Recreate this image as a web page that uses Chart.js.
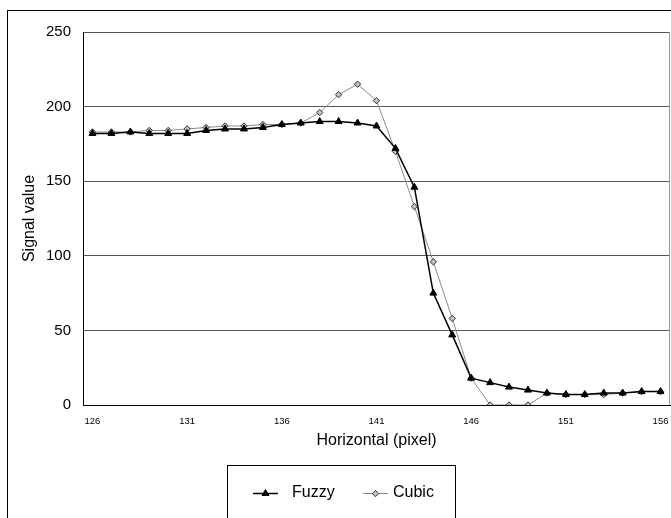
<!DOCTYPE html>
<html>
<head>
<meta charset="utf-8">
<script src="https://cdn.jsdelivr.net/npm/chart.js@4"></script>
<style>
  html, body { margin: 0; padding: 0; background: #fff; overflow: hidden; }
  #wrap { width: 671px; height: 518px; overflow: hidden; }
</style>
</head>
<body>
<div id="wrap"><canvas id="chart" width="675" height="518"></canvas></div>
<script>
// x positions (pixel index) and the two signal series
const pixels = [126, 127, 128, 129, 130, 131, 132, 133, 134, 135, 136, 137, 138, 139, 140, 141,
                142, 143, 144, 145, 146, 147, 148, 149, 150, 151, 152, 153, 154, 155, 156];
const fuzzy = [182, 182, 183, 182, 182, 182, 184, 185, 185, 186, 188, 189, 190, 190, 189, 187,
               172, 146, 75, 47, 18, 15, 12, 10, 8, 7, 7, 8, 8, 9, 9];
const cubic = [183, 183, 183, 184, 184, 185, 186, 187, 187, 188, 188, 189, 196, 208, 215, 204,
               170, 133, 96, 58, 18, 0, 0, 0, 8, 7, 7, 7, 8, 9, 9];
const yTicks = [0, 50, 100, 150, 200, 250];

const FONT = 'Arial, "Liberation Sans", sans-serif';

// outer frame, right border of the plot and the boxed legend
const frame = {
  id: 'frame',
  beforeDraw(chart) {
    const ctx = chart.ctx;
    ctx.save();
    ctx.fillStyle = '#fff';
    ctx.fillRect(0, 0, chart.width, chart.height);
    ctx.strokeStyle = '#000';
    ctx.lineWidth = 1;
    ctx.strokeRect(7.5, 10.5, 700, 600);
    ctx.restore();
  },
  afterDraw(chart) {
    const ctx = chart.ctx;
    const a = chart.chartArea;
    ctx.save();
    ctx.strokeStyle = '#999';
    ctx.lineWidth = 1;
    ctx.beginPath();
    ctx.moveTo(Math.round(a.right) - 0.5, a.top);
    ctx.lineTo(Math.round(a.right) - 0.5, a.bottom);
    ctx.stroke();

    // legend
    ctx.strokeStyle = '#000';
    ctx.strokeRect(227.5, 465.5, 228, 80);
    const items = [{ x: 253, tx: 292 }, { x: 363, tx: 393 }];
    chart.data.datasets.forEach((ds, i) => {
      const it = items[i];
      const y = 493;
      ctx.strokeStyle = ds.borderColor;
      ctx.lineWidth = ds.borderWidth;
      ctx.beginPath();
      ctx.moveTo(it.x, y + 0.5);
      ctx.lineTo(it.x + 25, y + 0.5);
      ctx.stroke();
      ctx.fillStyle = ds.pointBackgroundColor;
      ctx.strokeStyle = ds.pointBorderColor;
      ctx.lineWidth = 1;
      Chart.helpers.drawPoint(ctx, {
        pointStyle: ds.pointStyle, radius: ds.pointRadius, borderWidth: 1
      }, it.x + 12.5, y + 0.5);
      ctx.fillStyle = '#000';
      ctx.font = '16px ' + FONT;
      ctx.textBaseline = 'middle';
      ctx.textAlign = 'left';
      ctx.fillText(ds.label, it.tx, y);
    });
    ctx.restore();
  }
};

new Chart(document.getElementById('chart'), {
  type: 'line',
  data: {
    labels: pixels.map(String),
    datasets: [
      {
        label: 'Fuzzy',
        data: fuzzy,
        borderColor: '#000',
        borderWidth: 1.5,
        pointStyle: 'triangle',
        pointRadius: 4,
        pointBackgroundColor: '#000',
        pointBorderColor: '#000',
        pointBorderWidth: 1,
        tension: 0
      },
      {
        label: 'Cubic',
        data: cubic,
        borderColor: '#8c8c8c',
        borderWidth: 1,
        pointStyle: 'rectRot',
        pointRadius: 3.2,
        pointBackgroundColor: '#c0c0c0',
        pointBorderColor: '#333',
        pointBorderWidth: 1,
        tension: 0
      }
    ]
  },
  options: {
    responsive: false,
    animation: false,
    events: [],
    layout: { padding: { top: 32, right: 1, left: 0, bottom: 0 } },
    plugins: {
      legend: { display: false },
      tooltip: { enabled: false }
    },
    scales: {
      x: {
        type: 'category',
        offset: true,
        grid: { display: false, drawTicks: false },
        border: { display: true, color: '#000', width: 1 },
        ticks: {
          autoSkip: false,
          maxRotation: 0,
          padding: 11,
          color: '#000',
          font: { family: FONT, size: 9.5 },
          callback: (v, i) => (i % 5 === 0 ? pixels[i] : '')
        },
        title: {
          display: true,
          text: 'Horizontal (pixel)',
          color: '#000',
          font: { family: FONT, size: 16 },
          padding: { top: 4, bottom: 68 }
        },
        afterFit: (s) => {
          s.height = 113;
          s.paddingLeft = 0;
          s.paddingRight = 0;
        }
      },
      y: {
        min: 0,
        max: 250,
        afterBuildTicks: (s) => { s.ticks = yTicks.map(v => ({ value: v })); },
        grid: { color: '#555', lineWidth: 1, drawTicks: false },
        border: { display: true, color: '#000', width: 1 },
        ticks: {
          padding: 12,
          color: '#000',
          font: { family: FONT, size: 15 }
        },
        title: {
          display: true,
          text: 'Signal value',
          color: '#000',
          font: { family: FONT, size: 16 },
          padding: { top: 20, bottom: 0 }
        },
        afterFit: (s) => { s.width = 83; }
      }
    }
  },
  plugins: [frame]
});
</script>
</body>
</html>
